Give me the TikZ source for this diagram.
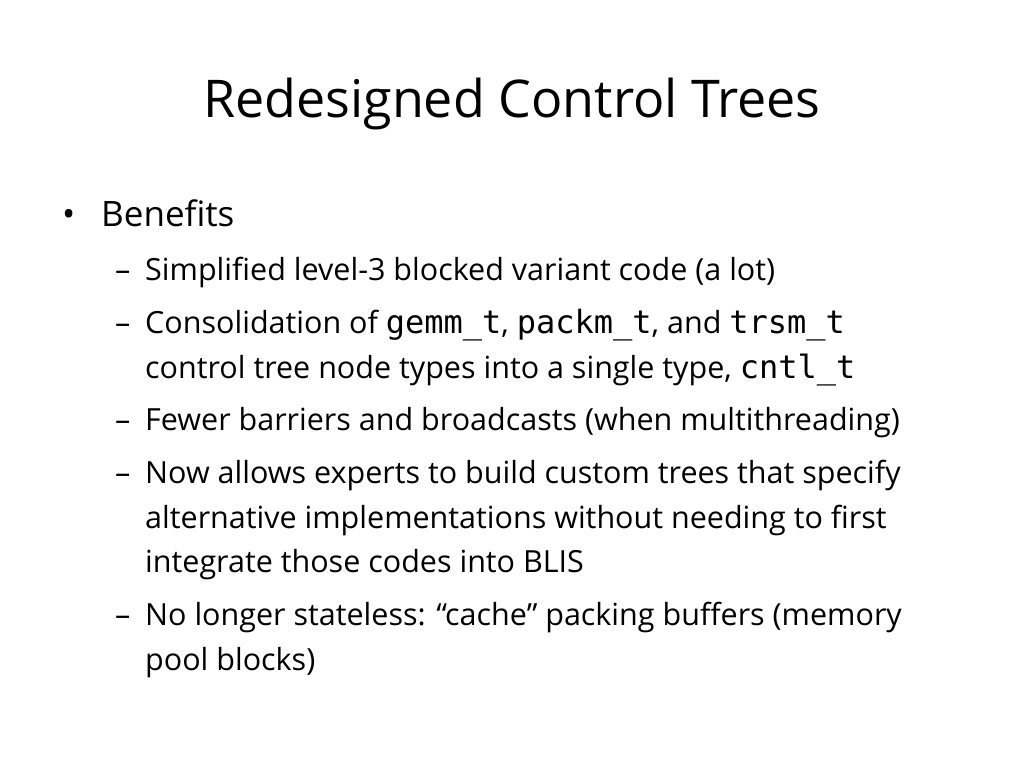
\documentclass[tikz,border=0pt]{standalone}
\usepackage{fontspec}
\setmainfont{Open Sans}[Ligatures=NoCommon]
\newfontfamily\codefont{DejaVu Sans Mono}
\begin{document}
\begin{tikzpicture}[x=1pt,y=1pt,
  txt/.style={anchor=base west,inner sep=0pt,font=\fontsize{30.5}{34}\selectfont},
  big/.style={anchor=base west,inner sep=0pt,font=\fontsize{35}{40}\selectfont}]
\useasboundingbox (0,0) rectangle (1024,-768);
\newcommand{\cd}[1]{{\codefont\fontsize{32}{32}\selectfont #1}}
\node[anchor=base,inner sep=0pt,font=\fontsize{52}{64}\selectfont] (title) at (512,-117) {Redesigned Control Trees};
\node[big] (b0) at (62,-226) {•};
\node[big] (b1) at (101,-226) {Benefits};
\foreach \y/\n/\t in {
 280/s1/{Simplified level-3 blocked variant code (a lot)},
 430/s3/{Fewer barriers and broadcasts (when multithreading)},
 483/s4/{Now allows experts to build custom trees that specify},
 625/s5/{No longer stateless: “cache” packing buffers (memory}}{
  \node[txt] (d\n) at (115,-\y) {–};
  \node[txt] (\n) at (145,-\y) {\t};
}
\node[txt] (ds2) at (115,-333) {–};
\node[txt] (s2) at (145,-333) {Consolidation of \cd{gemm\_t}, \cd{packm\_t}, and \cd{trsm\_t}};
\node[txt] (s2b) at (145,-378) {control tree node types into a single type, \cd{cntl\_t}};
\node[txt] (s4b) at (145,-528) {alternative implementations without needing to first};
\node[txt] (s4c) at (145,-572) {integrate those codes into BLIS};
\node[txt] (s5b) at (145,-670) {pool blocks)};
\end{tikzpicture}
\end{document}
